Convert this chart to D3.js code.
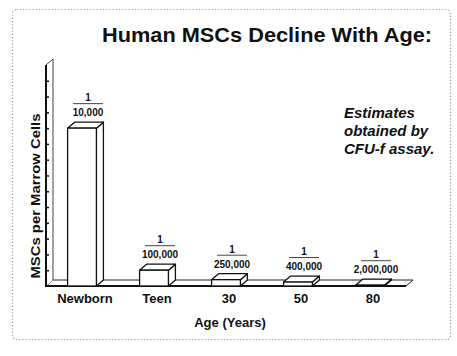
<!DOCTYPE html>
<html>
<head>
<meta charset="utf-8">
<script src="https://cdn.jsdelivr.net/npm/d3@7/dist/d3.min.js"></script>
<style>
  html, body { margin: 0; padding: 0; background: #fff; }
  svg { display: block; }
  text { font-family: Arial, "Liberation Sans", sans-serif; fill: #111; }
</style>
</head>
<body>
<svg id="chart" width="457" height="356"></svg>
<script>
// ---- data ----
const categories = ["Newborn", "Teen", "30", "50", "80"];
const numerators = ["1", "1", "1", "1", "1"];
const denominators = ["10,000", "100,000", "250,000", "400,000", "2,000,000"];
// MSCs per million marrow cells (1/10,000 = 100 per million, etc.)
const values = [100, 10, 4, 2.5, 0.5];
const yTickValues = [10, 20, 30, 40, 50, 60, 70, 80, 90, 100, 110, 120, 130];
const titleText = "Human MSCs Decline With Age:";
const noteLines = ["Estimates", "obtained by", "CFU-f assay."];
const xTitle = "Age (Years)";
const yTitle = "MSCs per Marrow Cells";

// ---- layout ----
const svg = d3.select("#chart");
const plotLeft = 46, plotRight = 406, plotBase = 286, plotTop = 65;
const dx = 7, dy = 6; // 3D depth

const x = d3.scaleBand().domain(categories).range([plotLeft, plotRight])
  .paddingInner(0.6).paddingOuter(0.3);
const y = d3.scaleLinear().domain([0, 140]).range([plotBase, plotTop]);
const bw = x.bandwidth();

// frame
svg.append("rect")
  .attr("x", 12.5).attr("y", 9.5).attr("width", 438).attr("height", 330)
  .attr("rx", 4).attr("fill", "none")
  .attr("stroke", "#9a9a9a").attr("stroke-width", 1.2)
  .attr("stroke-dasharray", "1.2,2");

// title
svg.append("text")
  .attr("x", 102).attr("y", 42)
  .attr("font-size", 21).attr("font-weight", "bold")
  .attr("textLength", 330).attr("lengthAdjust", "spacingAndGlyphs")
  .text(titleText);

// floor slab
svg.append("path")
  .attr("d", `M${plotLeft},${plotBase} L${plotLeft + dx},${plotBase - dy} L${plotRight + dx},${plotBase - dy} L${plotRight},${plotBase} Z`)
  .attr("fill", "#fff").attr("stroke", "#222").attr("stroke-width", 1);
svg.append("line")
  .attr("x1", plotLeft).attr("x2", plotRight).attr("y1", plotBase).attr("y2", plotBase)
  .attr("stroke", "#111").attr("stroke-width", 2);

// back wall slab
svg.append("path")
  .attr("d", `M${plotLeft},${plotBase} L${plotLeft},${y(140)} L${plotLeft + dx},${y(140) - dy} L${plotLeft + dx},${plotBase - dy}`)
  .attr("fill", "#fff").attr("stroke", "#444").attr("stroke-width", 1);
svg.append("line")
  .attr("x1", plotLeft).attr("x2", plotLeft).attr("y1", plotBase + 1).attr("y2", y(140))
  .attr("stroke", "#111").attr("stroke-width", 2);

// y ticks
const yAxis = d3.axisRight(y).tickValues(yTickValues).tickSize(3).tickFormat("");
const gy = svg.append("g").attr("transform", `translate(${plotLeft},0)`).call(yAxis);
gy.select(".domain").remove();
gy.selectAll(".tick line").attr("stroke", "#111").attr("stroke-width", 1.5);

// bars
const bars = svg.append("g").selectAll("g").data(categories).join("g");
bars.each(function (c, i) {
  const g = d3.select(this);
  const x0 = x(c), x1 = x0 + bw, yt = y(values[i]);
  const sw = 1.3;
  g.append("path")
    .attr("d", `M${x1},${yt} L${x1 + dx},${yt - dy} L${x1 + dx},${plotBase - dy} L${x1},${plotBase} Z`)
    .attr("fill", "#fff").attr("stroke", "#111").attr("stroke-width", sw).attr("stroke-linejoin", "round");
  g.append("path")
    .attr("d", `M${x0},${yt} L${x0 + dx},${yt - dy} L${x1 + dx},${yt - dy} L${x1},${yt} Z`)
    .attr("fill", "#fff").attr("stroke", "#111").attr("stroke-width", sw).attr("stroke-linejoin", "round");
  g.append("rect")
    .attr("x", x0).attr("y", yt).attr("width", bw).attr("height", plotBase - yt)
    .attr("fill", "#fff").attr("stroke", "#111").attr("stroke-width", sw);
});

// fraction labels
const labels = svg.append("g").selectAll("g").data(categories).join("g")
  .attr("transform", (c, i) => `translate(${x(c) + bw / 2 + 6},${y(values[i]) - 12})`);
labels.append("text").attr("text-anchor", "middle")
  .attr("font-size", 10).attr("font-weight", "bold")
  .text((c, i) => denominators[i]);
labels.append("line")
  .attr("x1", -15).attr("x2", 15).attr("y1", -12.5).attr("y2", -12.5)
  .attr("stroke", "#444").attr("stroke-width", 1);
labels.append("text").attr("text-anchor", "middle").attr("y", -15)
  .attr("font-size", 10).attr("font-weight", "bold")
  .text((c, i) => numerators[i]);

// x labels
svg.append("g").selectAll("text").data(categories).join("text")
  .attr("x", c => x(c) + bw / 2 + 3).attr("y", 303)
  .attr("text-anchor", "middle").attr("font-size", 13).attr("font-weight", "bold")
  .text(c => c);

// axis titles
svg.append("text")
  .attr("x", 230).attr("y", 327).attr("text-anchor", "middle")
  .attr("font-size", 13).attr("font-weight", "bold")
  .text(xTitle);
svg.append("text")
  .attr("transform", "translate(40,196) rotate(-90)")
  .attr("text-anchor", "middle").attr("font-size", 13.5).attr("font-weight", "bold")
  .attr("textLength", 165).attr("lengthAdjust", "spacingAndGlyphs")
  .text(yTitle);

// note
svg.append("g").selectAll("text").data(noteLines).join("text")
  .attr("x", 344).attr("y", (d, i) => 118 + i * 18)
  .attr("font-size", 15).attr("font-weight", "bold").attr("font-style", "italic")
  .text(d => d);
</script>
</body>
</html>
